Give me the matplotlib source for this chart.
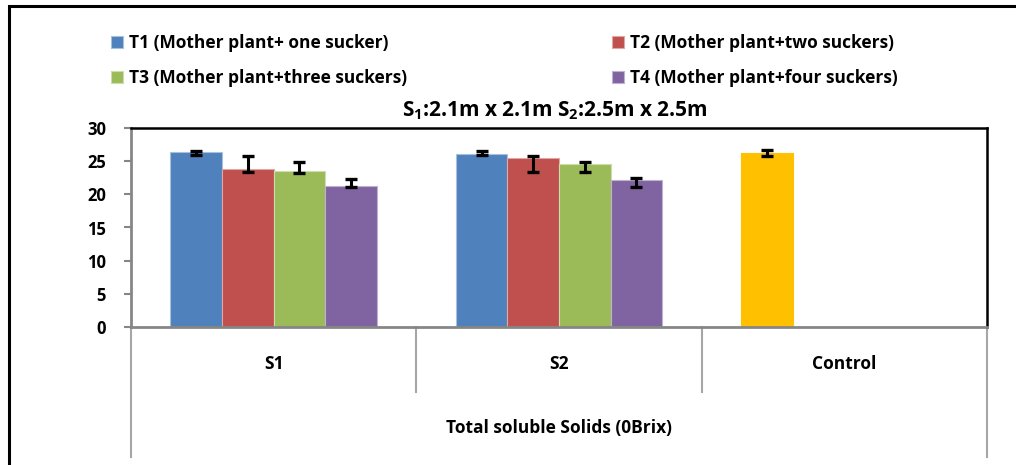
import matplotlib.pyplot as plt
import matplotlib.transforms as mtransforms
from matplotlib.patches import Rectangle
import numpy as np

plt.rcParams["font.family"] = ["Open Sans", "DejaVu Sans"]
plt.rcParams["font.weight"] = "bold"
plt.rcParams["mathtext.fontset"] = "custom"
plt.rcParams["mathtext.bf"] = "Open Sans:bold"
plt.rcParams["mathtext.rm"] = "Open Sans:bold"

categories = ["S1", "S2", "Control"]
series_names = ["T1 (Mother plant+ one sucker)", "T2 (Mother plant+two suckers)",
                "T3 (Mother plant+three suckers)", "T4 (Mother plant+four suckers)"]
# T1 carries the Control bar (drawn in gold)
t1 = [26.45, 26.05, 26.3]
t2 = [23.8, 25.45]
t3 = [23.55, 24.6]
t4 = [21.3, 22.2]
# error bar ends (lower, upper) as drawn in the original
t1_lo, t1_hi = [25.9, 25.9, 25.8], [26.6, 26.6, 26.7]
t2_lo, t2_hi = [23.35, 23.35], [25.85, 25.85]
t3_lo, t3_hi = [23.25, 23.3], [24.8, 24.85]
t4_lo, t4_hi = [21.15, 21.15], [22.35, 22.4]
y_ticks = [0, 5, 10, 15, 20, 25, 30]
title = "S$_\\mathbf{1}$:2.1m x 2.1m S$_\\mathbf{2}$:2.5m x 2.5m"
axis_title = "Total soluble Solids (0Brix)"

COLORS = ["#4F81BD", "#C0504D", "#9BBB59", "#8064A2"]
CONTROL = "#FFC000"
EDGES = ["#A7C0DE", "#DFA8A6", "#CDDDAC", "#BFB1D0"]
GRID = "#868686"

fig = plt.figure(figsize=(10.16, 4.65), dpi=100)
ax = fig.add_axes([131 / 1016, 1 - 327 / 465, 856 / 1016, 199 / 465])

w = 0.181
values = [t1, t2, t3, t4]
lows = [t1_lo, t2_lo, t3_lo, t4_lo]
highs = [t1_hi, t2_hi, t3_hi, t4_hi]
handles = []
for i, (vals, lo, hi) in enumerate(zip(values, lows, highs)):
    x = np.arange(len(vals)) + (i - 1.5) * w
    colors = [COLORS[i]] * len(vals)
    edges = [EDGES[i]] * len(vals)
    if i == 0:
        colors[2] = CONTROL
        edges[2] = CONTROL
    bars = ax.bar(x, vals, width=w, color=colors, edgecolor=edges, linewidth=0.8,
                  label=series_names[i], zorder=2)
    handles.append(bars)
    # error bar centre placed midway so the ends match the picture
    lo, hi = np.array(lo), np.array(hi)
    ax.errorbar(x, (lo + hi) / 2, yerr=(hi - lo) / 2, fmt="none", ecolor="black",
                elinewidth=2.2, capsize=4.6, capthick=2.4, zorder=3)

ax.set_xlim(-0.5, 2.5)
ax.set_ylim(0, 30)
ax.set_yticks(y_ticks)
ax.tick_params(axis="y", length=5, width=1.5, color=GRID, labelsize=12, pad=13)
ax.set_xticks([])
for lab in ax.get_yticklabels():
    lab.set_fontweight("bold")

ax.spines["left"].set_color(GRID)
ax.spines["bottom"].set_color(GRID)
ax.spines["left"].set_linewidth(2)
ax.spines["bottom"].set_linewidth(2)
ax.spines["top"].set_color("black")
ax.spines["right"].set_color("black")
ax.spines["top"].set_linewidth(1.8)
ax.spines["right"].set_linewidth(1.8)

# multi-level category axis
trans = mtransforms.blended_transform_factory(ax.transData, ax.transAxes)
for xb in [0.5, 1.5]:
    ax.plot([xb, xb], [0, -0.327], transform=trans, color="#A6A6A6", lw=1.5,
            clip_on=False)
for xb in [-0.5, 2.5]:
    ax.plot([xb, xb], [0, -0.655], transform=trans, color="#A6A6A6", lw=1.5,
            clip_on=False)
for i, cat in enumerate(categories):
    ax.text(i, -0.186, cat, transform=trans, ha="center", va="center",
            fontsize=12.5, fontweight="bold")
ax.text(1, -0.508, axis_title, transform=trans, ha="center", va="center",
        fontsize=12.5, fontweight="bold")

ax.text(0.495, 1.085, title, transform=ax.transAxes, ha="center", va="center",
        fontsize=15, fontweight="bold")

# legend filled row by row: T1 T2 / T3 T4
order = [0, 2, 1, 3]
fig.legend([handles[k] for k in order], [series_names[k] for k in order],
           loc="upper left", bbox_to_anchor=(104 / 1016, 1 - 27 / 465), ncol=2,
           frameon=False, prop={"weight": "bold", "size": 12.5},
           handlelength=0.7, handleheight=0.7, handletextpad=0.35,
           columnspacing=11.8, labelspacing=1.0, borderaxespad=0)

# outer chart frame
fig.patches.append(Rectangle((9 / 1016, -0.1), 1.2, 1 - 6 / 465 + 0.1,
                             transform=fig.transFigure, fill=False,
                             edgecolor="black", lw=2.2))

fig.savefig("out.png", dpi=100)
